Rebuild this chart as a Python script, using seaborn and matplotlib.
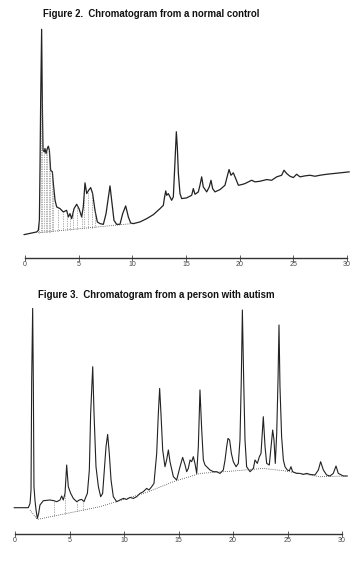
import numpy as np
import pandas as pd
import matplotlib
matplotlib.use("Agg")
import matplotlib.pyplot as plt
import seaborn as sns

# ---------------- data ----------------
# Figure 2: normal control  (time in minutes, detector signal in arbitrary units)
ctrl_time = [-0.1, 1.09, 1.24, 1.34, 1.40, 1.46, 1.55, 1.61, 1.68, 1.80, 1.86, 1.96, 2.08, 2.17, 2.27,
             2.39, 2.55, 2.64, 2.80, 2.95, 3.26, 3.57, 3.88, 4.04, 4.19, 4.35, 4.57, 4.81, 5.03, 5.28,
             5.43, 5.59, 5.75, 5.93, 6.12, 6.30, 6.52, 6.74, 6.99, 7.30, 7.55, 7.92, 8.11, 8.29, 8.54,
             8.85, 9.10, 9.38, 9.63, 9.84, 10.09, 10.71, 11.34, 11.96, 12.58, 12.89, 12.98, 13.11, 13.20,
             13.35, 13.51, 13.66, 13.82, 13.98, 14.10, 14.19, 14.29, 14.44, 14.60, 15.06, 15.53, 15.68,
             15.84, 16.15, 16.30, 16.46, 16.61, 16.93, 17.17, 17.33, 17.48, 17.70, 18.17, 18.63, 18.79,
             19.01, 19.19, 19.41, 19.63, 19.88, 20.19, 20.50, 20.81, 21.12, 21.43, 21.89, 22.52, 22.98,
             23.45, 23.91, 24.13, 24.38, 24.69, 25.00, 25.31, 25.62, 26.09, 26.55, 27.02, 27.48, 28.11,
             28.73, 29.35, 30.22]
ctrl_signal = [-1, 1.7, 3.3, 13.3, 66.7, 133, 204, 133, 83, 81.7, 85, 80, 85, 87.3, 83.3,
               63.3, 61.7, 50, 33.3, 26.7, 25, 21.7, 23.3, 16.7, 20, 15, 25, 29.3, 25, 16.7,
               26.7, 50.7, 40, 43.3, 46, 40, 23.3, 11.7, 10, 9.3, 20, 47.7, 30, 13.3, 9.3,
               9.3, 20, 27.7, 16.7, 10.7, 10, 11.7, 15, 19, 25, 28.3, 35, 42.7, 38.3,
               40, 36.7, 33.3, 36.7, 73.3, 101.7, 86.7, 60, 40, 35, 35.7, 38.3, 45,
               39.3, 41.7, 48.3, 56.7, 46.7, 41.7, 46.7, 53.3, 45, 41.7, 44, 48.3, 55,
               64, 58.3, 60.7, 55, 48.3, 49, 50, 51.7, 53.3, 51.7, 52.3, 54, 53.3,
               56.7, 58.3, 63.3, 60, 57.3, 56, 59.3, 56.7, 57.7, 58.3, 57.3, 58.3, 59.3,
               60, 60.7, 61.7]
ctrl_base_time = [1.24, 9.94]
ctrl_base_signal = [1.0, 10.0]
ctrl_drop_times = [1.34, 1.46, 1.61, 1.75, 1.92, 2.05, 2.20, 2.35, 2.50, 2.64,
                   3.10, 3.50, 3.90, 4.20, 4.45, 4.80, 5.30, 5.50, 5.85, 6.20, 6.50]

# Figure 3: person with autism
aut_time = [-0.09, 1.22, 1.38, 1.47, 1.53, 1.62, 1.68, 1.74, 1.83, 1.93, 2.05, 2.17, 2.29, 2.60, 3.21,
            3.58, 3.82, 4.13, 4.28, 4.43, 4.59, 4.74, 4.89, 5.11, 5.35, 5.66, 5.90, 6.12, 6.33, 6.51,
            6.64, 6.82, 6.94, 7.13, 7.25, 7.43, 7.65, 7.86, 8.04, 8.20, 8.35, 8.50, 8.65, 8.81, 9.02,
            9.33, 9.63, 9.94, 10.24, 10.55, 10.86, 11.16, 11.47, 11.77, 12.08, 12.29, 12.54, 12.75,
            13.00, 13.15, 13.27, 13.39, 13.55, 13.76, 13.91, 14.07, 14.22, 14.53, 14.83, 15.14, 15.38,
            15.60, 15.75, 15.90, 16.06, 16.21, 16.36, 16.51, 16.67, 16.82, 16.97, 17.13, 17.28, 17.43,
            17.58, 17.89, 18.20, 18.50, 18.81, 19.11, 19.27, 19.42, 19.54, 19.69, 19.85, 20.03, 20.28,
            20.49, 20.64, 20.76, 20.86, 20.98, 21.10, 21.25, 21.56, 21.87, 22.02, 22.23, 22.42, 22.57,
            22.78, 22.94, 23.09, 23.33, 23.49, 23.64, 23.76, 23.88, 24.01, 24.13, 24.22, 24.31, 24.46,
            24.62, 24.77, 24.98, 25.17, 25.32, 25.47, 25.84, 26.15, 26.45, 26.76, 27.06, 27.52, 27.83,
            28.04, 28.29, 28.59, 28.90, 29.20, 29.45, 29.66, 30.12, 30.49]
aut_signal = [-1, -1, 3.3, 16.7, 126.7, 198.3, 126.7, 20, 6.7, -3.3, -11.7, -6.7, 1.7, 6, 6.7,
              6, 5, 6.7, 10.7, 6.7, 13.3, 41.7, 20, 13.3, 8.3, 5, 6.7, 7.3, 5, 10,
              13.3, 36.7, 93.3, 140, 93.3, 40, 20, 10, 13.3, 36.7, 60, 72.3, 53.3, 26.7, 10,
              5, 6.7, 8.3, 7.3, 9.3, 8.3, 10, 13.3, 15, 18.3, 16.7, 20, 23.3,
              53.3, 93.3, 118.3, 93.3, 56.7, 40, 46.7, 56.7, 45, 30, 26.7, 40, 49.3,
              41.7, 35, 38.3, 46.7, 45, 50, 43.3, 33.3, 60, 116.7, 76.7, 46.7, 41.7,
              40, 36.7, 35, 35, 33.3, 36.7, 46.7, 60, 68.3, 66.7, 53.3, 45, 40,
              43.3, 66.7, 126.7, 196.7, 126.7, 66.7, 40, 35, 38.3, 46.7, 43.3, 50, 53.3,
              90, 60, 43.3, 41.7, 60, 76.7, 66.7, 43.3, 73.3, 126.7, 181.7, 120, 70,
              46.7, 40, 36.7, 36, 40, 35, 33.3, 33.3, 32.3, 33.3, 32.3, 31.7, 36.7,
              45, 36.7, 31.7, 30.7, 33.3, 40.7, 33.3, 30.7, 30.7]
aut_base_time = [1.38, 2.05, 7.80, 12.08, 14.53, 16.97, 20.03, 22.78, 24.62, 27.98, 30.49]
aut_base_signal = [-3.3, -12.7, 0, 14.3, 25, 33.3, 35.7, 38.3, 36, 30, 30.7]
aut_drop_times = [3.58, 4.59, 5.66, 6.21]

tick_values = [0, 5, 10, 15, 20, 25, 30]
tick_labels = ["0", "5", "10", "15", "20", "25", "30"]

titles = ["Figure 2.  Chromatogram from a normal control",
          "Figure 3.  Chromatogram from a person with autism"]

# ---------------- drawing ----------------
sns.set_style("white")
plt.rcParams["font.family"] = ["Liberation Sans", "DejaVu Sans"]

W, H = 359, 562
fig = plt.figure(figsize=(W / 100, H / 100), dpi=100)


def panel(rect, t, s, bt, bs, drops, ylim, lw):
    ax = fig.add_axes(rect)
    df = pd.DataFrame({"time": t, "signal": s})
    sns.lineplot(data=df, x="time", y="signal", ax=ax, color="#222222",
                 linewidth=lw, sort=False, estimator=None)
    bdf = pd.DataFrame({"time": bt, "signal": bs})
    sns.lineplot(data=bdf, x="time", y="signal", ax=ax, color="#444444",
                 linewidth=0.6, linestyle=(0, (1, 1.5)), sort=False, estimator=None)
    for d in drops:
        top = np.interp(d, t, s)
        bot = np.interp(d, bt, bs)
        ax.plot([d, d], [bot, top], color="#666666", linewidth=0.5,
                linestyle=(0, (1, 1.5)))
    for ln in ax.lines:
        ln.set_clip_on(False)
    ax.set_xlim(0, 30)
    ax.set_ylim(*ylim)
    ax.set_xticks(tick_values)
    ax.set_xticklabels(tick_labels)
    ax.set_yticks([])
    ax.set_xlabel("")
    ax.set_ylabel("")
    for side in ["left", "right", "top"]:
        ax.spines[side].set_visible(False)
    ax.spines["bottom"].set_color("#333333")
    ax.spines["bottom"].set_linewidth(1.0)
    ax.tick_params(axis="x", direction="inout", length=4, width=0.6, color="#444444",
                   labelsize=5, labelcolor="#444444", pad=0.5, bottom=True)
    ax.set_facecolor("none")
    return ax


panel([25 / W, 1 - 258 / H, 322 / W, (258 - 27) / H],
      ctrl_time, ctrl_signal, ctrl_base_time, ctrl_base_signal, ctrl_drop_times,
      (-24.3, 206.3), 0.9)
panel([15 / W, 1 - 534 / H, 327 / W, (534 - 306) / H],
      aut_time, aut_signal, aut_base_time, aut_base_signal, aut_drop_times,
      (-27.3, 200.7), 0.8)

fig.text(43 / W, 1 - 14 / H, titles[0], fontsize=6.9, fontweight="bold",
         va="center", ha="left", color="#111111")
fig.text(38 / W, 1 - 295 / H, titles[1], fontsize=6.9, fontweight="bold",
         va="center", ha="left", color="#111111")

fig.savefig("out.png", dpi=100, facecolor="white")
